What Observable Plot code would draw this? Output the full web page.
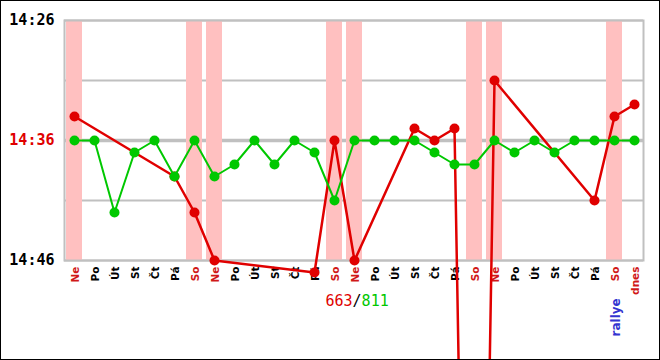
<!DOCTYPE html>
<html>
<head>
<meta charset="utf-8">
<script src="https://cdn.jsdelivr.net/npm/d3@7"></script>
<script src="https://cdn.jsdelivr.net/npm/@observablehq/plot@0.6"></script>
<style>
  html, body { margin: 0; padding: 0; background: #fff; }
  #wrap { position: relative; width: 660px; height: 360px; overflow: hidden; }
  #wrap svg { display: block; overflow: hidden; }
  #border { position: absolute; left: 0; top: 0; width: 660px; height: 360px; box-sizing: border-box; border: 1px solid #000; pointer-events: none; }
</style>
</head>
<body>
<div id="wrap"><div id="border"></div></div>
<script>
// ---- data ----
const days = ["Ne","Po","Út","St","Čt","Pá","So",
              "Ne","Po","Út","St","Čt","Pá","So",
              "Ne","Po","Út","St","Čt","Pá","So",
              "Ne","Po","Út","St","Čt","Pá","So","dnes"];
const greenTimes = ["14:36","14:36","14:42","14:37","14:36","14:39","14:36",
                    "14:39","14:38","14:36","14:38","14:36","14:37","14:41",
                    "14:36","14:36","14:36","14:36","14:37","14:38","14:38",
                    "14:36","14:37","14:36","14:37","14:36","14:36","14:36","14:36"];
const redTimes = ["14:34",null,null,null,null,"14:39","14:42",
                  "14:46",null,null,null,null,"14:47","14:36",
                  "14:46",null,null,"14:35","14:36","14:35","16:10",
                  "14:31",null,null,null,null,"14:41","14:34","14:33"];
const yTickLabels = ["14:26","14:36","14:46"];
const gridTimes = ["14:26","14:31","14:36","14:41","14:46"];
const redCount = "663";
const greenCount = "811";
const noteLabel = "rallye";
const noteDay = 27;

// ---- helpers ----
const mins = t => { const [h, m] = t.split(":").map(Number); return (h - 14) * 60 + m; };
const RED = "#e00000", GREEN = "#00c800", PINK = "#ffc0c0", GRID = "#c0c0c0";
const isWeekend = d => d === "Ne" || d === "So";
const weekendIdx = days.map((d, i) => isWeekend(d) ? i : -1).filter(i => i >= 0);
const greenData = greenTimes.map((t, i) => ({i, v: mins(t)}));
const redData = redTimes.map((t, i) => t ? {i, v: mins(t)} : null).filter(Boolean);
const mono = "DejaVu Sans Mono";
const sans = "DejaVu Sans";

const chart = Plot.plot({
  width: 660,
  height: 360,
  marginLeft: 64,
  marginRight: 17,
  marginTop: 20,
  marginBottom: 100,
  x: {type: "linear", domain: [-0.5, 28.45], axis: null},
  y: {type: "linear", domain: [mins("14:26"), mins("14:46")], reverse: true, axis: null},
  marks: [
    Plot.ruleY(gridTimes.filter(t => t !== "14:36").map(mins), {stroke: GRID, strokeWidth: 2}),
    Plot.ruleY(["14:36"].map(mins), {stroke: GRID, strokeWidth: 3.5}),
    Plot.rect(weekendIdx, {x1: i => i - 0.4, x2: i => i + 0.4, y1: () => mins("14:26"), y2: () => mins("14:46"), fill: PINK}),
    Plot.frame({stroke: GRID, strokeWidth: 2}),
    // y labels
    Plot.text(yTickLabels, {
      x: () => -0.5, y: d => mins(d), text: d => d, textAnchor: "end", dx: -10,
      fill: d => d === "14:36" ? RED : "#000", fontFamily: mono, fontWeight: "bold", fontSize: 15
    }),
    // x labels
    Plot.text(days, {
      x: (d, i) => i, y: () => 46.5, text: d => d, rotate: -90, textAnchor: "end",
      lineAnchor: "middle", dx: 1.5,
      fill: d => (isWeekend(d) || d === "dnes") ? "#d01818" : "#000",
      fontFamily: sans, fontWeight: "bold", fontSize: 10.5
    }),
    // red series
    Plot.line(redData, {x: "i", y: "v", stroke: RED, strokeWidth: 2.5}),
    Plot.dot(redData, {x: "i", y: "v", r: 5, fill: RED, stroke: "none"}),
    // green series
    Plot.line(greenData, {x: "i", y: "v", stroke: GREEN, strokeWidth: 2}),
    Plot.dot(greenData, {x: "i", y: "v", r: 5, fill: GREEN, stroke: "none"}),
    // totals
    Plot.text([redCount], {x: () => 12.55, y: () => 49.4, text: d => d, textAnchor: "start", fill: RED, fontFamily: mono, fontSize: 15}),
    Plot.text(["/"], {x: () => 12.55, y: () => 49.4, text: d => d, textAnchor: "start", dx: 27.1, fill: "#000", fontFamily: mono, fontSize: 15}),
    Plot.text([greenCount], {x: () => 12.55, y: () => 49.4, text: d => d, textAnchor: "start", dx: 36.1, fill: GREEN, fontFamily: mono, fontSize: 15}),
    // note
    Plot.text([noteLabel], {
      x: () => noteDay, y: () => 49.15, text: d => d, rotate: -90, textAnchor: "end",
      lineAnchor: "middle", dx: 1.5, fill: "#3434d0",
      fontFamily: sans, fontWeight: "bold", fontSize: 12, letterSpacing: "1.2px"
    })
  ]
});
document.getElementById("wrap").insertBefore(chart, document.getElementById("border"));
</script>
</body>
</html>
